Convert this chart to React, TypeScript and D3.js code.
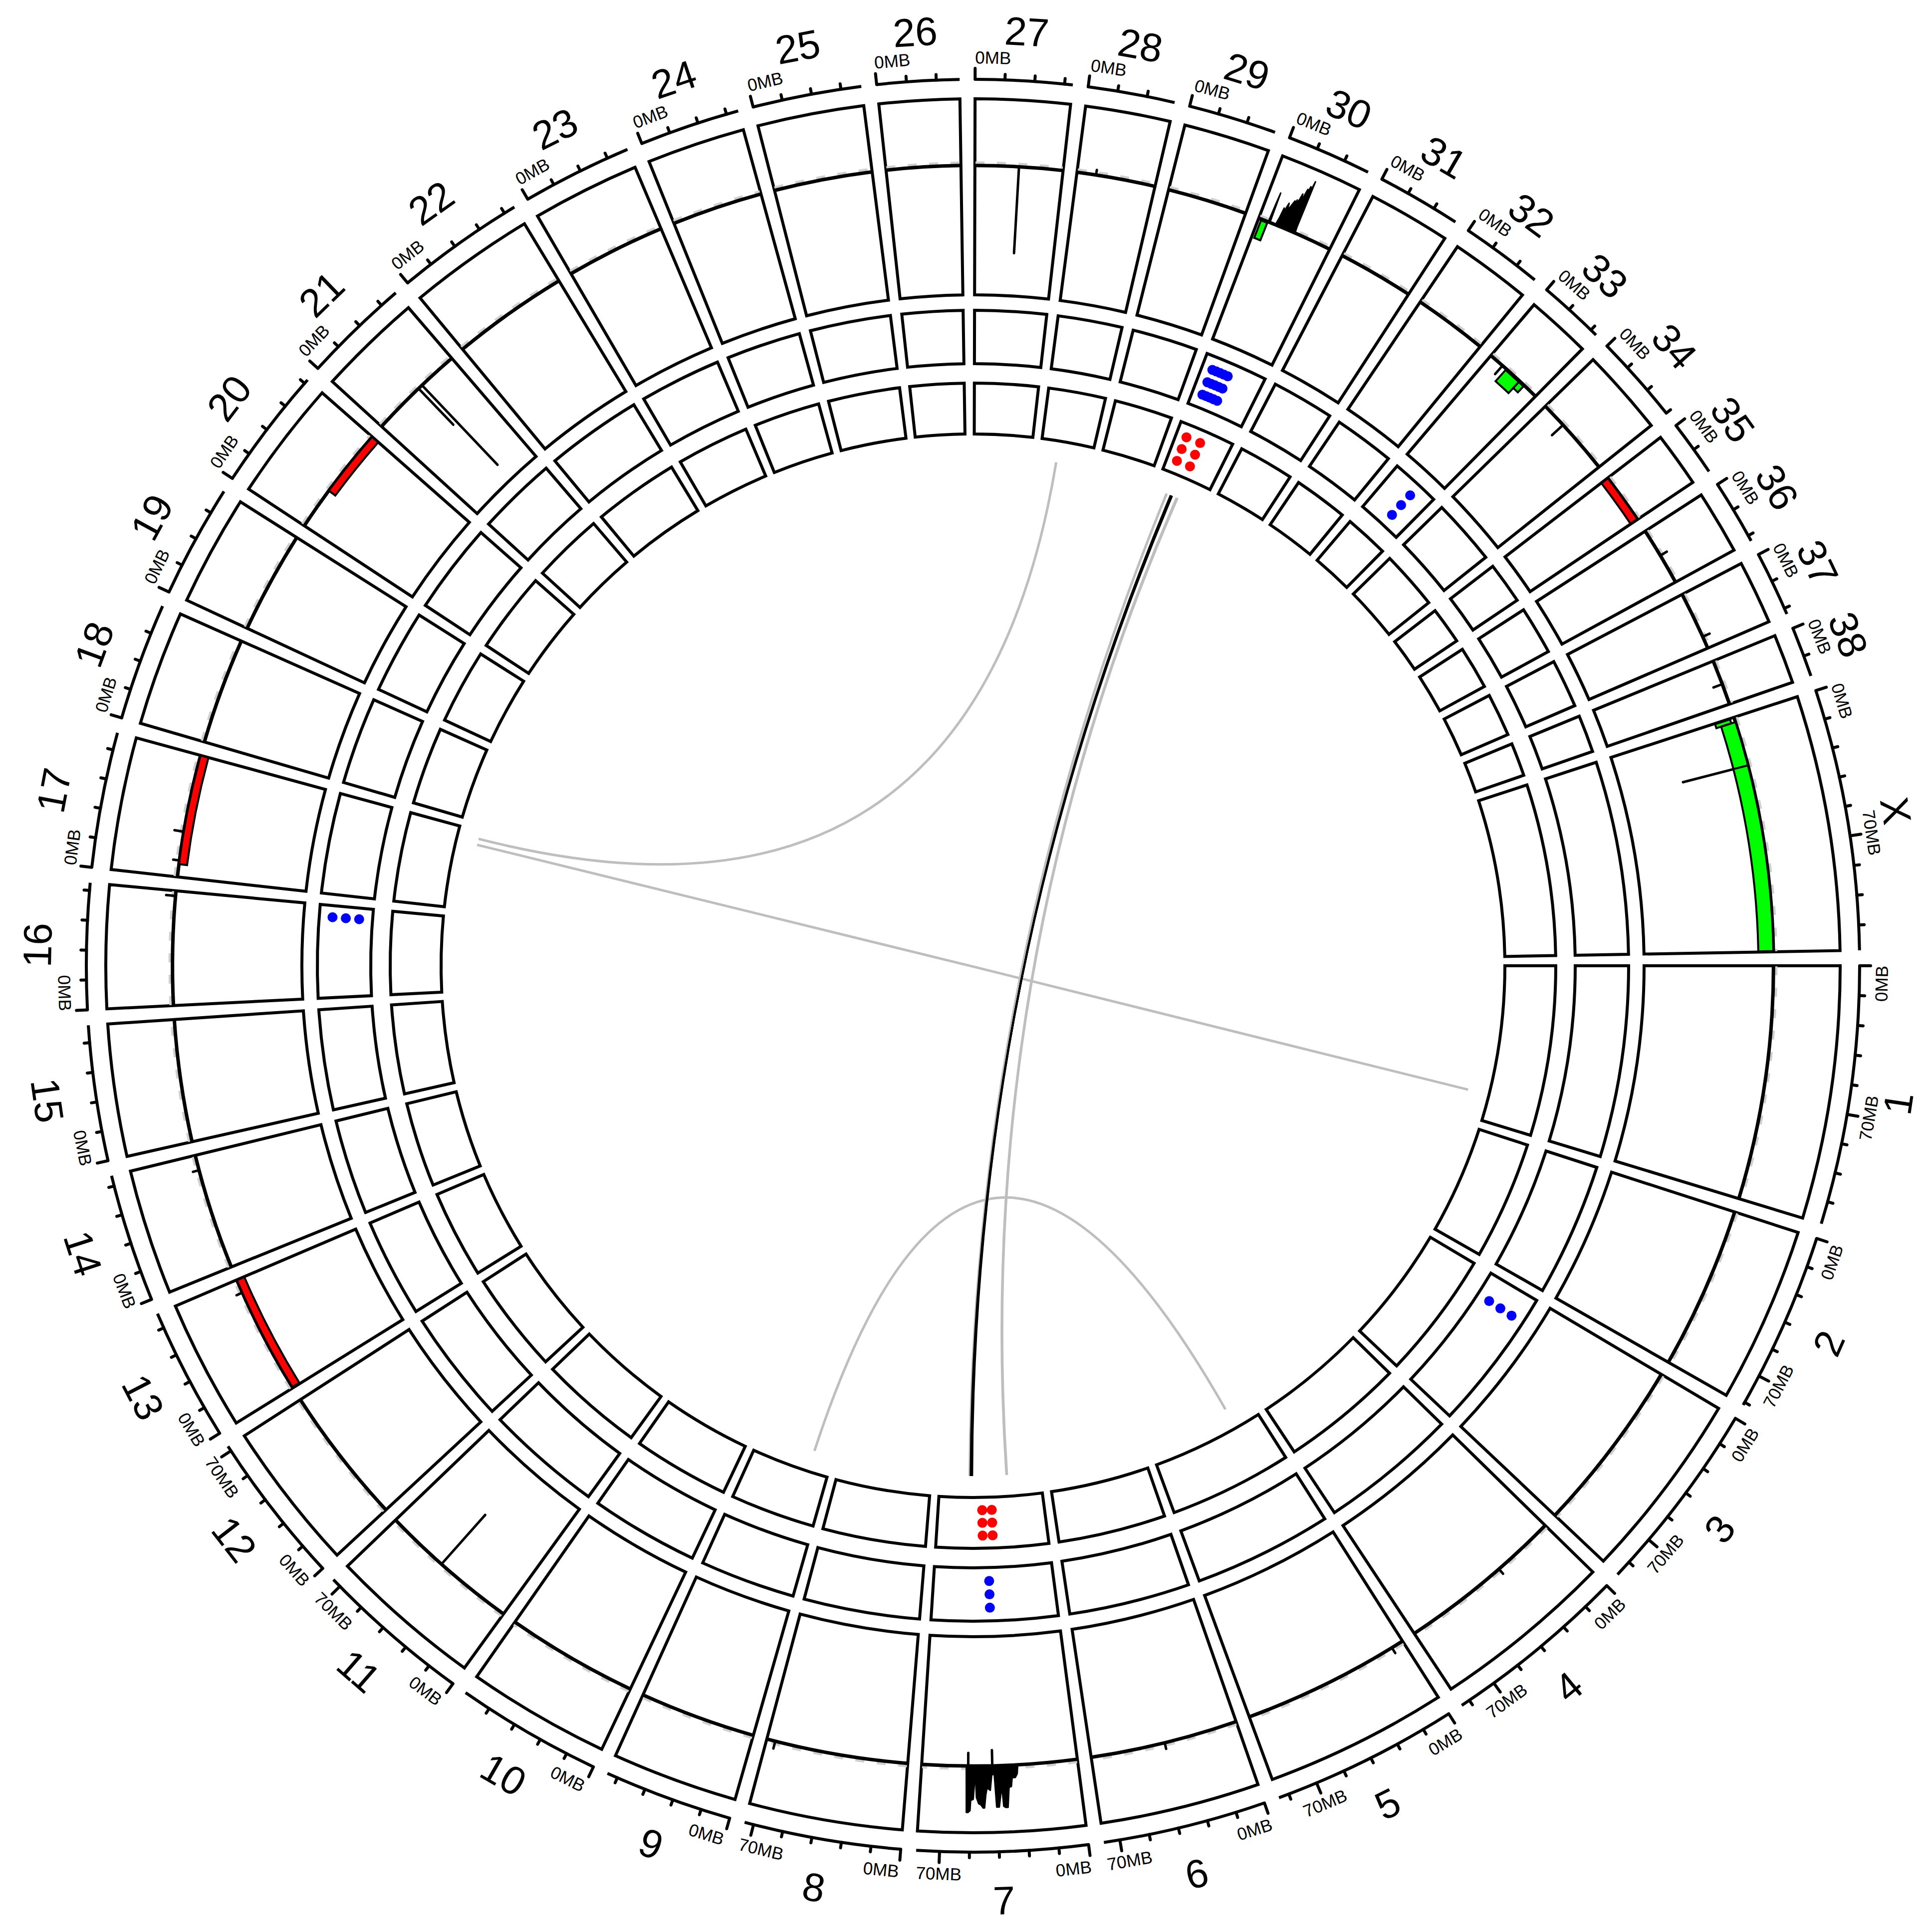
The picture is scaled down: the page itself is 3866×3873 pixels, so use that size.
import React, { useEffect, useRef } from 'react';
import * as d3 from 'd3';

const W = 3866;
const H = 3873;
const CX = 1950;
const CY = 1936;

// ---- genome layout ----
const CHROMS = ['1','2','3','4','5','6','7','8','9','10','11','12','13','14','15','16','17','18','19','20',
  '21','22','23','24','25','26','27','28','29','30','31','32','33','34','35','36','37','38','X'];
const CHROM_LEN_MB = [122.68, 85.43, 91.89, 88.28, 88.92, 77.57, 80.97, 74.33, 61.07, 69.33, 74.39, 72.50,
  63.24, 60.97, 64.19, 59.63, 64.29, 55.84, 53.74, 58.13, 50.86, 61.44, 52.29, 47.70, 51.63, 38.96, 45.88,
  41.18, 41.85, 40.21, 39.90, 38.81, 31.38, 42.12, 26.52, 30.81, 30.90, 23.91, 123.87];
const GAP_DEG = 1;
const TICK_MINOR_MB = 14;
const TICK_MAJOR_MB = 70;

// ---- outer track: copy-number like line ----
const CN_DOMAIN = [0, 3];
const CN_BASELINE = 2;
const CN_GREY_LEVEL = 2.04;
// narrow spikes: [chrom, position Mb, value]
const CN_SPIKES: [string, number, number][] = [
  ['21', 27.5, 1.2], ['21', 30.0, 0.25], ['27', 22.9, 0.62], ['11', 41.3, 0.95], ['X', 26.0, 0.93],
  ['34', 13.4, 1.76], ['33', 8.0, 1.82], ['38', 12.9, 1.85], ['37', 24.4, 2.12], ['36', 14.9, 2.12],
  ['6', 38.7, 2.1], ['8', 69.8, 2.12], ['14', 53.0, 2.1], ['17', 8.6, 2.1], ['17', 23.7, 2.15],
  ['16', 57.0, 2.15], ['13', 56.0, 2.1], ['7', 56.8, 1.79], ['7', 44.3, 1.75], ['28', 10.0, 2.08],
  ['4', 33.0, 2.1], ['5', 6.5, 2.1],
];
// dense amplified regions: [position Mb, value]
const CN_BLOB_CHR7: [number, number][] = [
  [31.1, 2.0], [31.6, 2.14], [32.7, 2.2], [34.3, 2.2], [34.9, 2.34], [36.1, 2.35], [37.0, 2.67], [38.1, 2.67],
  [39.1, 2.65], [39.7, 2.35], [40.4, 2.46], [41.3, 2.66], [42.6, 2.66], [43.4, 2.14], [44.7, 2.14], [45.6, 2.39],
  [47.2, 2.35], [47.9, 2.46], [48.6, 2.67], [49.3, 2.67], [50.4, 2.62], [51.5, 2.6], [52.6, 2.5], [52.9, 2.27],
  [53.6, 2.28], [54.2, 2.53], [55.5, 2.55], [55.8, 2.71], [56.8, 2.74], [57.6, 2.74], [57.8, 2.0],
];
const CN_BLOB_CHR30: [number, number][] = [
  [5.3, 2.0], [5.53, 2.3], [5.76, 2.5], [5.99, 2.25], [6.22, 2.0], [9.31, 2.0], [9.88, 2.14], [10.22, 2.3],
  [10.68, 2.2], [11.25, 2.33], [11.6, 2.4], [12.17, 2.28], [12.97, 2.37], [13.89, 2.47], [14.29, 2.38],
  [14.75, 2.5], [15.38, 2.44], [16.12, 2.62], [16.69, 2.48], [17.49, 2.72], [17.89, 2.6], [18.35, 2.78],
  [18.86, 2.66], [19.43, 2.88], [19.72, 2.5], [20.0, 2.12], [20.3, 2.0],
];
// segments: [chrom, start Mb, end Mb, low, high]
const GAIN_SEGMENTS: [string, number, number, number, number][] = [
  ['30', 1.5, 5.0, 1.68, 1.98], ['33', 10.7, 20.0, 1.74, 1.98], ['33', 20.0, 23.3, 1.85, 1.98],
  ['X', 0.4, 2.6, 1.68, 1.93], ['X', 2.6, 26.0, 1.76, 2.0], ['X', 26.0, 123.5, 1.76, 2.0],
];
const LOSS_SEGMENTS: [string, number, number, number, number][] = [
  ['13', 0.5, 63.0, 1.87, 2.0], ['17', 6.7, 64.2, 1.87, 2.0], ['20', 22.2, 58.0, 1.87, 2.0], ['35', 0.2, 26.3, 1.87, 2.0],
];

// ---- middle / inner tracks: points [chrom, position Mb, level] ----
const DOT_DOMAIN = [0, 4];
const BLUE_POINTS: [string, number, number][] = [
  ['30', 7.0, 1], ['30', 9.7, 1], ['30', 12.4, 1], ['30', 15.1, 1], ['30', 17.8, 1],
  ['30', 7.0, 2], ['30', 9.7, 2], ['30', 12.4, 2], ['30', 15.1, 2], ['30', 17.8, 2],
  ['30', 7.0, 3], ['30', 9.7, 3], ['30', 12.4, 3], ['30', 15.1, 3], ['30', 17.8, 3],
  ['7', 43.4, 1], ['7', 43.4, 2], ['7', 43.4, 3],
  ['16', 52.1, 1], ['16', 52.1, 2], ['16', 52.1, 3],
  ['3', 16.8, 1], ['3', 16.8, 2], ['3', 16.8, 3],
  ['33', 18.7, 1], ['33', 18.7, 2], ['33', 18.7, 3],
];
const RED_POINTS: [string, number, number][] = [
  ['30', 7.8, 1], ['30', 7.8, 2], ['30', 7.8, 3], ['30', 18.6, 1], ['30', 18.6, 2], ['30', 18.6, 3],
  ['7', 40.0, 1], ['7', 40.0, 2], ['7', 40.0, 3], ['7', 47.3, 1], ['7', 47.3, 2], ['7', 47.3, 3],
];

// ---- links: [chromA, posA, chromB, posB] ----
const LINKS_GREY: [string, number, string, number][] = [
  ['28', 13.9, '17', 58.2], ['17', 53.2, '1', 101.9], ['9', 15.7, '5', 20.4],
  ['30', 19.5, '7', 26.7], ['30', 19.0, '7', 27.0], ['30', 10.0, '7', 57.0],
];
const LINKS_BLACK: [string, number, string, number][] = [
  ['30', 13.6, '7', 55.0], ['30', 14.0, '7', 55.4], ['30', 14.4, '7', 55.8], ['30', 14.8, '7', 56.2],
];

// ---- radii ----
const R_NAME = 1875;
const R_TICK_LABEL = 1821;
const R_TICK = 1777;
const TRACK1: [number, number] = [1345, 1738];
const TRACK2: [number, number] = [1207, 1314];
const TRACK3: [number, number] = [1066, 1168];
const R_LINK = 1023;

export default function App() {
  const ref = useRef<SVGSVGElement | null>(null);

  useEffect(() => {
    const svg = d3.select(ref.current);
    svg.selectAll('*').remove();
    svg.append('rect').attr('width', W).attr('height', H).attr('fill', '#ffffff');
    const g = svg.append('g').attr('transform', `translate(${CX},${CY})`);

    const total = d3.sum(CHROM_LEN_MB);
    const degPerMb = (360 - GAP_DEG * CHROMS.length) / total;
    const startDeg = CHROM_LEN_MB.map((_, i) => d3.sum(CHROM_LEN_MB.slice(0, i)) * degPerMb + i * GAP_DEG);
    const angle = CHROMS.map((_, i) =>
      d3.scaleLinear().domain([0, CHROM_LEN_MB[i]]).range([startDeg[i], startDeg[i] + CHROM_LEN_MB[i] * degPerMb]));
    const idx = (c: string) => CHROMS.indexOf(c);
    const deg = (c: string, p: number) => angle[idx(c)](p);
    const rad = (c: string, p: number) => (deg(c, p) * Math.PI) / 180;
    const pt = (a: number, r: number): [number, number] => [r * Math.cos(a), r * Math.sin(a)];

    const cnR = d3.scaleLinear().domain(CN_DOMAIN).range([TRACK1[0] + 8, TRACK1[1] - 8]);
    const dot2R = d3.scaleLinear().domain(DOT_DOMAIN).range(TRACK2);
    const dot3R = d3.scaleLinear().domain(DOT_DOMAIN).range(TRACK3);

    const sector = (a0: number, a1: number, r0: number, r1: number) => {
      const p = d3.path();
      p.moveTo(...pt(a0, r1));
      p.arc(0, 0, r1, a0, a1, false);
      p.lineTo(...pt(a1, r0));
      p.arc(0, 0, r0, a1, a0, true);
      p.closePath();
      return p.toString();
    };
    const arcLine = (a0: number, a1: number, r: number) => {
      const p = d3.path();
      p.moveTo(...pt(a0, r));
      p.arc(0, 0, r, a0, a1, false);
      return p.toString();
    };

    // boxes
    const boxes = g.append('g').attr('fill', 'none').attr('stroke', '#000').attr('stroke-width', 6)
      .attr('stroke-linejoin', 'miter');
    CHROMS.forEach((c, i) => {
      const a0 = rad(c, 0), a1 = rad(c, CHROM_LEN_MB[i]);
      [TRACK1, TRACK2, TRACK3].forEach(([r0, r1]) => {
        boxes.append('path').attr('d', sector(a0, a1, r0, r1));
      });
    });

    // grey companion line
    const grey = g.append('g').attr('fill', 'none').attr('stroke', '#cfcfcf').attr('stroke-width', 6)
      .attr('stroke-dasharray', '18 25');
    CHROMS.forEach((c, i) => {
      grey.append('path').attr('d', arcLine(rad(c, 0.3), rad(c, CHROM_LEN_MB[i] - 0.3), cnR(CN_GREY_LEVEL)));
    });

    // black baseline line
    const line = g.append('g').attr('fill', 'none').attr('stroke', '#000').attr('stroke-width', 7);
    CHROMS.forEach((c, i) => {
      line.append('path').attr('d', arcLine(rad(c, 0), rad(c, CHROM_LEN_MB[i]), cnR(CN_BASELINE)));
    });

    // blobs
    const area = d3.areaRadial<[number, number]>()
      .innerRadius(cnR(CN_BASELINE))
      .outerRadius((d) => cnR(d[1]))
      .curve(d3.curveLinear);
    const drawBlob = (c: string, data: [number, number][]) => {
      area.angle((d) => rad(c, d[0]) + Math.PI / 2);
      g.append('path').attr('d', area(data) as string).attr('fill', '#000').attr('stroke', '#000')
        .attr('stroke-width', 3).attr('stroke-linejoin', 'round');
    };
    drawBlob('7', CN_BLOB_CHR7);
    drawBlob('30', CN_BLOB_CHR30);

    // spikes
    const spikes = g.append('g').attr('stroke', '#000').attr('stroke-width', 5).attr('stroke-linecap', 'round');
    CN_SPIKES.forEach(([c, p, v]) => {
      const a = rad(c, p);
      const [x0, y0] = pt(a, cnR(CN_BASELINE));
      const [x1, y1] = pt(a, cnR(v));
      spikes.append('line').attr('x1', x0).attr('y1', y0).attr('x2', x1).attr('y2', y1);
    });

    // segments
    const segs = g.append('g').attr('stroke', '#000').attr('stroke-width', 4).attr('stroke-linejoin', 'miter');
    GAIN_SEGMENTS.forEach(([c, s, e, lo, hi]) => {
      segs.append('path').attr('d', sector(rad(c, s), rad(c, e), cnR(lo), cnR(hi))).attr('fill', '#00ff00');
    });
    LOSS_SEGMENTS.forEach(([c, s, e, lo, hi]) => {
      segs.append('path').attr('d', sector(rad(c, s), rad(c, e), cnR(lo), cnR(hi))).attr('fill', '#ff0000');
    });

    // dots
    const dots = g.append('g');
    BLUE_POINTS.forEach(([c, p, v]) => {
      const [x, y] = pt(rad(c, p), dot2R(v));
      dots.append('circle').attr('cx', x).attr('cy', y).attr('r', 10).attr('fill', '#0000ff');
    });
    RED_POINTS.forEach(([c, p, v]) => {
      const [x, y] = pt(rad(c, p), dot3R(v));
      dots.append('circle').attr('cx', x).attr('cy', y).attr('r', 10).attr('fill', '#ff0000');
    });

    // links
    const linkPath = (ca: string, pa: number, cb: string, pb: number) => {
      const p = d3.path();
      p.moveTo(...pt(rad(ca, pa), R_LINK));
      const [x2, y2] = pt(rad(cb, pb), R_LINK);
      p.quadraticCurveTo(0, 0, x2, y2);
      return p.toString();
    };
    const links = g.append('g').attr('fill', 'none');
    LINKS_GREY.forEach(([a, pa, b, pb]) => {
      links.append('path').attr('d', linkPath(a, pa, b, pb)).attr('stroke', '#bebebe').attr('stroke-width', 5);
    });
    LINKS_BLACK.forEach(([a, pa, b, pb]) => {
      links.append('path').attr('d', linkPath(a, pa, b, pb)).attr('stroke', '#000').attr('stroke-width', 4);
    });

    // axis ticks
    const axis = g.append('g').attr('stroke', '#000').attr('stroke-width', 6).attr('fill', 'none')
      .attr('stroke-linecap', 'round');
    const labels = g.append('g').attr('font-family', '"Liberation Sans", Arial, Helvetica, sans-serif')
      .attr('fill', '#000');
    const toDeg = 180 / Math.PI;
    const placeText = (text: string, r: number, size: number, centreDeg: (halfDeg: number) => number) => {
      const t = labels.append('text')
        .attr('text-anchor', 'middle')
        .attr('dominant-baseline', 'central')
        .attr('font-size', size)
        .text(text);
      const node = t.node() as SVGTextElement;
      const len = node.getComputedTextLength ? node.getComputedTextLength() : text.length * size * 0.6;
      const halfDeg = (len / 2 / r) * toDeg;
      const cDeg = centreDeg(halfDeg);
      const norm = ((cDeg % 360) + 360) % 360;
      const flip = norm > 0 && norm < 180;
      const rot = cDeg + 90 + (flip ? 180 : 0);
      const [x, y] = pt((cDeg * Math.PI) / 180, r);
      t.attr('transform', `translate(${x},${y}) rotate(${rot})`);
    };
    CHROMS.forEach((c, i) => {
      const len = CHROM_LEN_MB[i];
      const endDeg = deg(c, len);
      axis.append('path').attr('d', arcLine(rad(c, 0), rad(c, len), R_TICK)).attr('stroke-linecap', 'butt');
      const ticks = d3.range(0, len + 1e-9, TICK_MINOR_MB);
      ticks.forEach((m) => {
        const major = m % TICK_MAJOR_MB === 0;
        const a = rad(c, m);
        const [x0, y0] = pt(a, R_TICK);
        const [x1, y1] = pt(a, R_TICK + (major ? 22 : 11));
        axis.append('line').attr('x1', x0).attr('y1', y0).attr('x2', x1).attr('y2', y1);
        if (major) {
          const aDeg = deg(c, m);
          if (m === 0) {
            placeText(`${m}MB`, R_TICK_LABEL, 35, (h) => aDeg + h);
          } else {
            placeText(`${m}MB`, R_TICK_LABEL, 35, (h) => Math.min(aDeg, endDeg - h));
          }
        }
      });
      const mid = deg(c, len / 2);
      placeText(c, R_NAME, 80, () => mid);
    });
  }, []);

  return (
    <svg ref={ref} width={W} height={H} viewBox={`0 0 ${W} ${H}`}
      style={{ position: 'absolute', left: 0, top: 0, display: 'block', background: '#fff' }} />
  );
}
